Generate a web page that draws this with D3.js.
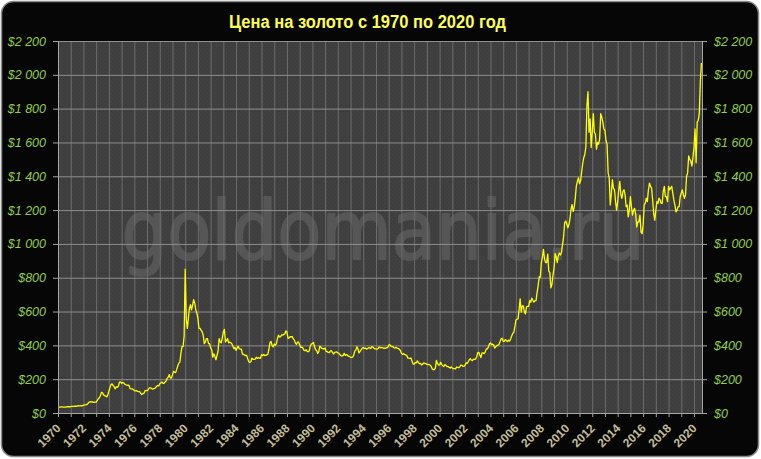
<!DOCTYPE html>
<html><head><meta charset="utf-8">
<script src="https://cdn.jsdelivr.net/npm/d3@7"></script>
<style>
html,body{margin:0;padding:0;background:#fff;}
svg{display:block;}
</style></head>
<body>
<svg id="chart" width="761" height="459"></svg>
<script>
// ---- DATA (monthly gold price, USD/oz, Jan 1970 .. Aug 2020) ----
const title = "Цена на золото с 1970 по 2020 год";
const watermark = "goldomania.ru";
const yTicks = [0,200,400,600,800,1000,1200,1400,1600,1800,2000,2200];
const yearTicks = d3.range(1970, 2021);
const prices1970s = [
 35,35,35,36,36,35,35,35,36,37,37,37,
 38,39,39,39,40,40,41,43,42,42,43,43,
 46,48,48,49,55,62,66,67,65,65,63,64,
 65,74,84,90,102,122,120,107,103,100,95,107,
 129,150,168,172,163,154,143,155,152,159,182,184,
 176,180,178,170,167,164,165,163,144,143,143,139,
 132,131,133,128,127,126,118,109,114,116,130,134,
 132,136,148,149,147,141,143,145,150,158,162,160,
 173,178,184,175,176,184,189,206,212,227,206,208,
 227,246,242,239,258,279,295,301,355,392,393,455];
const prices1980s = [
 850,560,500,560,620,640,610,640,670,650,610,590,
 560,500,500,490,480,460,410,420,440,440,410,410,
 385,375,330,350,335,315,340,365,440,420,415,445,
 480,495,420,430,440,415,420,415,410,395,380,388,
 370,385,395,380,378,378,348,348,342,340,341,320,
 303,299,304,325,317,317,318,330,323,327,325,323,
 345,339,346,340,342,343,348,377,418,423,398,391,
 408,401,409,438,460,450,451,462,460,466,467,486,
 478,442,444,451,451,452,438,431,414,406,420,419,
 404,388,390,384,371,368,375,365,362,367,394,409];
const prices1990s = [
 410,417,393,374,369,352,363,395,389,381,382,378,
 384,364,363,358,357,367,368,357,349,359,360,361,
 355,354,344,339,337,341,353,341,345,344,335,335,
 329,329,330,342,367,372,392,379,355,364,374,383,
 387,382,384,378,381,386,385,381,392,390,384,379,
 379,377,382,391,385,387,386,383,383,383,386,387,
 400,405,396,393,392,385,384,388,383,381,378,369,
 354,347,352,345,344,341,324,324,323,325,306,289,
 289,298,296,308,299,292,293,284,289,296,294,292,
 287,287,286,283,276,261,256,257,265,311,293,283];
const prices2000s = [
 284,300,286,280,275,286,282,275,274,270,266,272,
 266,262,263,261,272,270,268,272,283,283,276,276,
 282,296,294,303,315,321,313,310,319,317,319,333,
 357,359,341,328,356,356,351,360,379,379,390,408,
 414,405,407,403,384,392,398,401,405,421,439,442,
 424,423,434,429,422,431,425,438,456,470,477,510,
 550,555,557,611,675,596,634,633,598,586,628,630,
 631,665,655,679,667,656,665,665,713,755,806,803,
 890,922,968,910,889,890,940,839,830,740,760,816,
 859,943,924,890,929,946,934,949,997,1043,1127,1135];
const prices2010s = [
 1118,1095,1113,1149,1205,1233,1193,1216,1271,1342,1370,1391,
 1356,1373,1424,1474,1510,1529,1573,1820,1900,1660,1740,1570,
 1660,1770,1660,1650,1560,1600,1590,1620,1770,1750,1720,1680,
 1670,1610,1590,1420,1390,1230,1290,1380,1330,1320,1250,1200,
 1250,1320,1370,1290,1270,1310,1320,1290,1220,1230,1160,1200,
 1280,1220,1170,1200,1210,1175,1100,1130,1130,1170,1070,1060,
 1110,1230,1240,1270,1250,1320,1360,1340,1330,1260,1180,1140,
 1200,1250,1240,1270,1260,1240,1240,1310,1340,1280,1280,1250,
 1340,1320,1330,1340,1300,1260,1230,1190,1200,1220,1220,1280,
 1300,1320,1290,1270,1290,1400,1420,1520,1500,1490,1460,1510];
const prices2020 = [1570,1680,1480,1720,1730,1770,1960,2070];

// ---- BUILD ----
const allPrices = [].concat(prices1970s, prices1980s, prices1990s, prices2000s, prices2010s, prices2020);
const data = allPrices.map((v, i) => ({t: 1970 + i / 12, v}));

const svg = d3.select("#chart");
const L = 58, R = 702, T = 41, B = 413;

const x = d3.scaleLinear().domain([1970, 2020.63]).range([L, R]);
const y = d3.scaleLinear().domain([0, 2200]).range([B, T]);

// outer rounded frame
svg.append("rect").attr("x", 1.5).attr("y", 1.5).attr("width", 757).attr("height", 455)
  .attr("rx", 12).attr("fill", "#060606").attr("stroke", "#8a8a8a").attr("stroke-width", 1.5);

// plot texture
const defs = svg.append("defs");
const pat = defs.append("pattern").attr("id", "tex").attr("patternUnits", "userSpaceOnUse")
  .attr("width", 4).attr("height", 4);
pat.append("rect").attr("width", 4).attr("height", 4).attr("fill", "#404040");
pat.append("rect").attr("x", 1).attr("y", 1).attr("width", 1).attr("height", 1).attr("fill", "#363636");
pat.append("rect").attr("x", 3).attr("y", 3).attr("width", 1).attr("height", 1).attr("fill", "#393939");

svg.append("rect").attr("x", L).attr("y", T).attr("width", R - L).attr("height", B - T)
  .attr("fill", "url(#tex)");

// watermark
svg.append("text").attr("x", 383).attr("y", 259).attr("text-anchor", "middle")
  .attr("font-family", "DejaVu Sans, sans-serif").attr("font-size", 82)
  .attr("textLength", 523).attr("lengthAdjust", "spacingAndGlyphs")
  .attr("fill", "#565656").attr("stroke", "#565656").attr("stroke-width", 2)
  .attr("stroke-linejoin", "round").text(watermark);

// vertical gridlines
svg.append("g").attr("transform", `translate(0,${B})`)
  .call(d3.axisBottom(x).tickValues(yearTicks.slice(1)).tickSize(-(B - T)).tickFormat(""))
  .call(g => g.select(".domain").remove())
  .call(g => g.selectAll("line").attr("stroke", "#6c6c6c"));

// horizontal gridlines
svg.append("g").attr("transform", `translate(${L},0)`)
  .call(d3.axisLeft(y).tickValues(yTicks.slice(1)).tickSize(-(R - L)).tickFormat(""))
  .call(g => g.select(".domain").remove())
  .call(g => g.selectAll("line").attr("stroke", "#8e8e8e"));

// price line
svg.append("path").datum(data)
  .attr("fill", "none").attr("stroke", "#ffff00").attr("stroke-width", 1.3)
  .attr("stroke-linejoin", "round")
  .attr("d", d3.line().x(d => x(d.t)).y(d => y(d.v)));

const fmt = d => "$" + (d >= 1000 ? Math.floor(d / 1000) + " " + String(d % 1000).padStart(3, "0") : d);

function styleY(g) {
  g.select(".domain").attr("stroke", "#a6a6a6");
  g.selectAll(".tick line").attr("stroke", "#a6a6a6");
  g.selectAll("text").attr("fill", "#92d050").attr("font-family", "Liberation Sans, Arial, sans-serif")
    .attr("font-style", "italic").attr("font-size", 12.5);
}

// left axis
svg.append("g").attr("transform", `translate(${L},0)`)
  .call(d3.axisLeft(y).tickValues(yTicks).tickFormat(fmt).tickSizeInner(5).tickSizeOuter(0).tickPadding(7))
  .call(styleY);

// right axis
svg.append("g").attr("transform", `translate(${R},0)`)
  .call(d3.axisRight(y).tickValues(yTicks).tickFormat(fmt).tickSizeInner(5).tickSizeOuter(0).tickPadding(7))
  .call(styleY);

// bottom axis
svg.append("g").attr("transform", `translate(0,${B})`)
  .call(d3.axisBottom(x).tickValues(yearTicks).tickFormat(d => d % 2 === 0 ? d : "").tickSizeInner(4).tickSizeOuter(0))
  .call(g => {
    g.select(".domain").attr("stroke", "#a6a6a6");
    g.selectAll(".tick line").attr("stroke", "#a6a6a6");
    g.selectAll("text").attr("x", 0).attr("y", 0).attr("dy", 0)
      .attr("text-anchor", "end").attr("transform", "translate(3,16) rotate(-45)")
      .attr("fill", "#c4bd97").attr("font-family", "Liberation Sans, Arial, sans-serif")
      .attr("font-weight", "bold").attr("font-size", 12);
  });

// title
svg.append("text").attr("x", 367.5).attr("y", 28).attr("text-anchor", "middle")
  .attr("font-family", "Liberation Sans, Arial, sans-serif").attr("font-weight", "bold")
  .attr("font-size", 18).attr("textLength", 277).attr("lengthAdjust", "spacingAndGlyphs")
  .attr("fill", "#ffff55").text(title);
</script>
</body></html>
